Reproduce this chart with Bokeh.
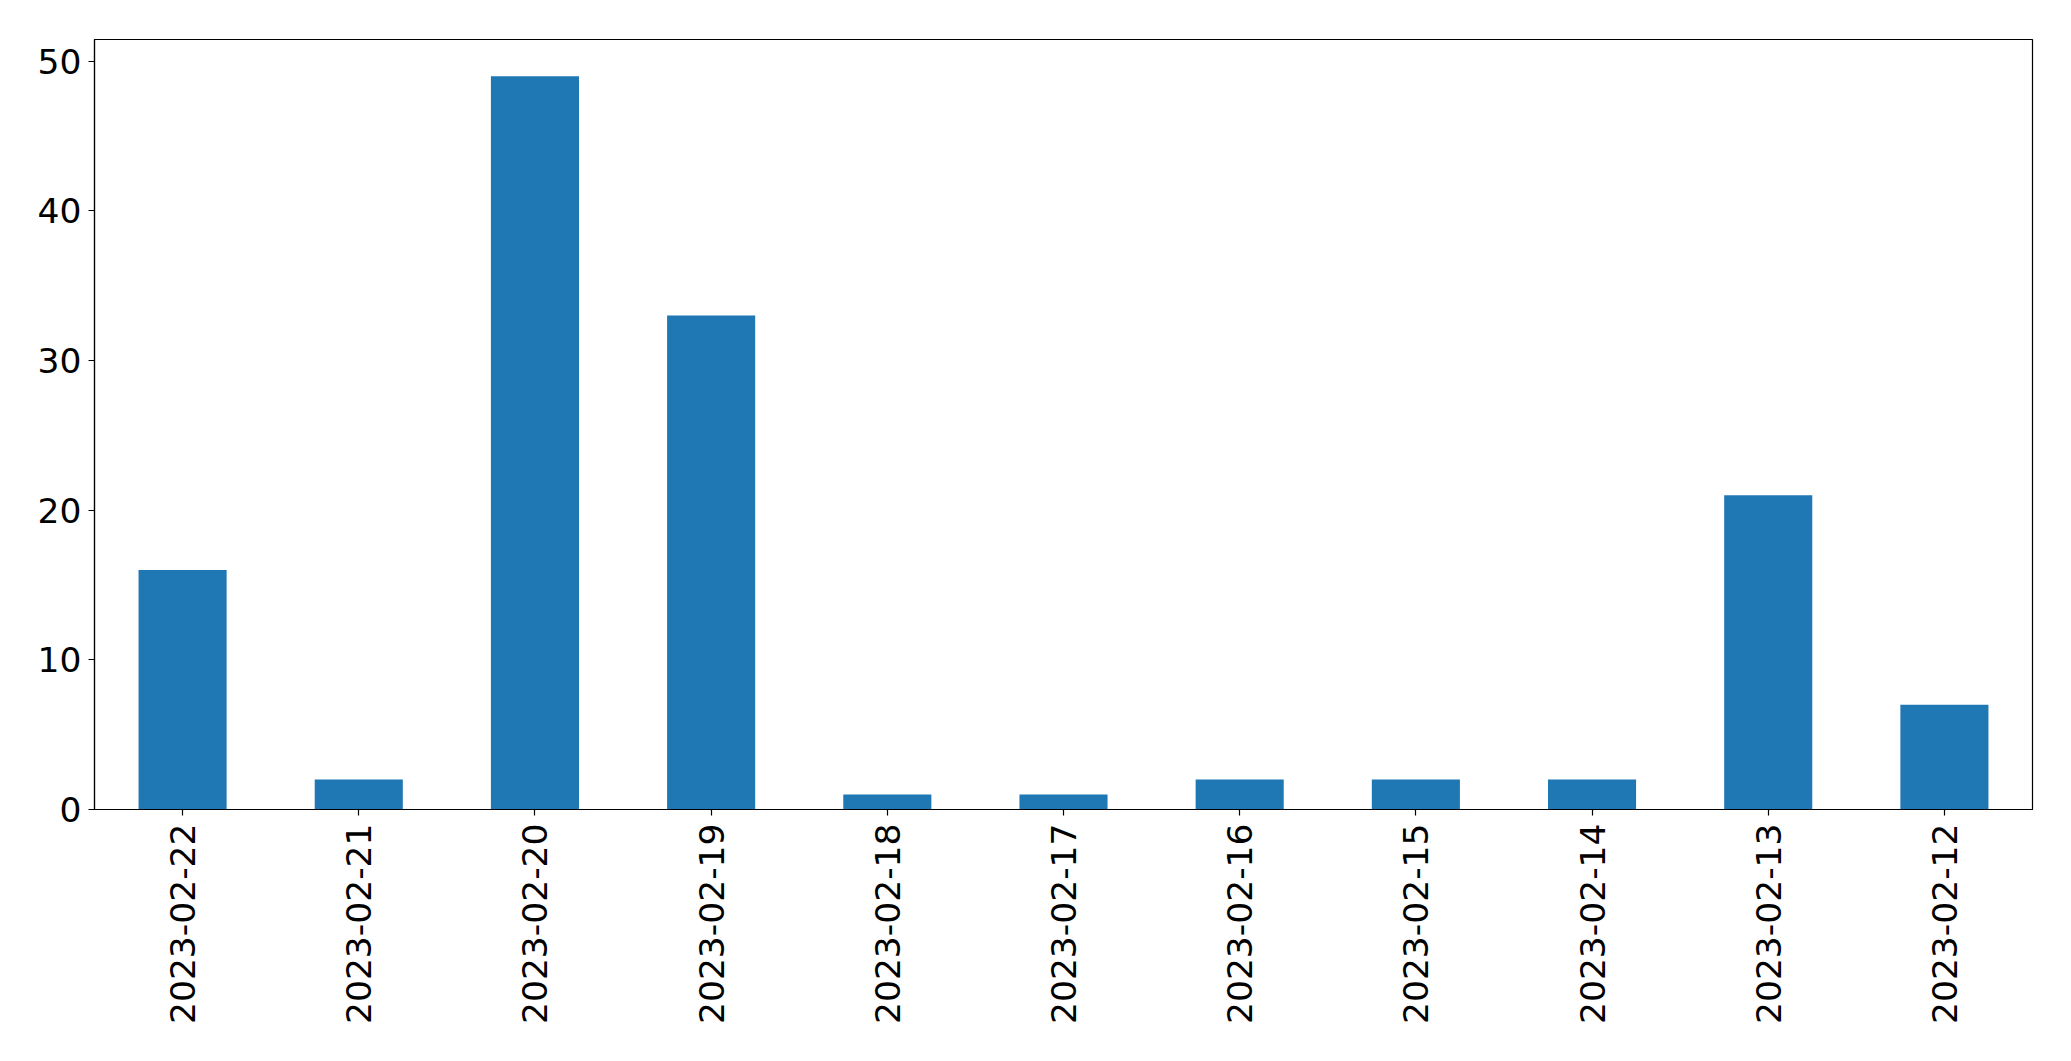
import math
from bokeh.plotting import figure
from bokeh.models import Range1d, FixedTicker
from bokeh.embed import file_html
from bokeh.resources import INLINE

dates = ["2023-02-22", "2023-02-21", "2023-02-20", "2023-02-19", "2023-02-18",
         "2023-02-17", "2023-02-16", "2023-02-15", "2023-02-14", "2023-02-13",
         "2023-02-12"]
counts = [16, 2, 49, 33, 1, 1, 2, 2, 2, 21, 7]
y_ticks = [0, 10, 20, 30, 40, 50]

FONT = "DejaVu Sans"
FS = "34.5px"

p = figure(x_range=dates, y_range=Range1d(0, max(counts) * 1.05),
           width=2063, height=1045, output_backend="svg", toolbar_location=None,
           min_border_left=94, min_border_top=39, min_border_right=31, min_border_bottom=236)
p.x_range.range_padding = 0
p.vbar(x=dates, top=counts, width=0.5, color="#1f77b4", line_color=None)

p.xgrid.visible = False
p.ygrid.visible = False
p.outline_line_color = "black"
p.outline_line_width = 1.2
p.outline_line_alpha = 1

for ax in (p.xaxis, p.yaxis):
    ax.axis_line_color = "black"
    ax.axis_line_width = 1.2
    ax.major_tick_line_color = "black"
    ax.major_tick_line_width = 1.2
    ax.major_tick_out = 6
    ax.major_tick_in = 0
    ax.minor_tick_line_color = None
    ax.major_label_text_font = FONT
    ax.major_label_text_font_size = FS
    ax.major_label_text_color = "black"

p.yaxis.ticker = FixedTicker(ticks=y_ticks)
p.yaxis.major_label_standoff = 7
p.xaxis.major_label_orientation = math.pi / 2
p.xaxis.major_label_standoff = 8

open("out.html", "w").write(file_html(p, INLINE))
